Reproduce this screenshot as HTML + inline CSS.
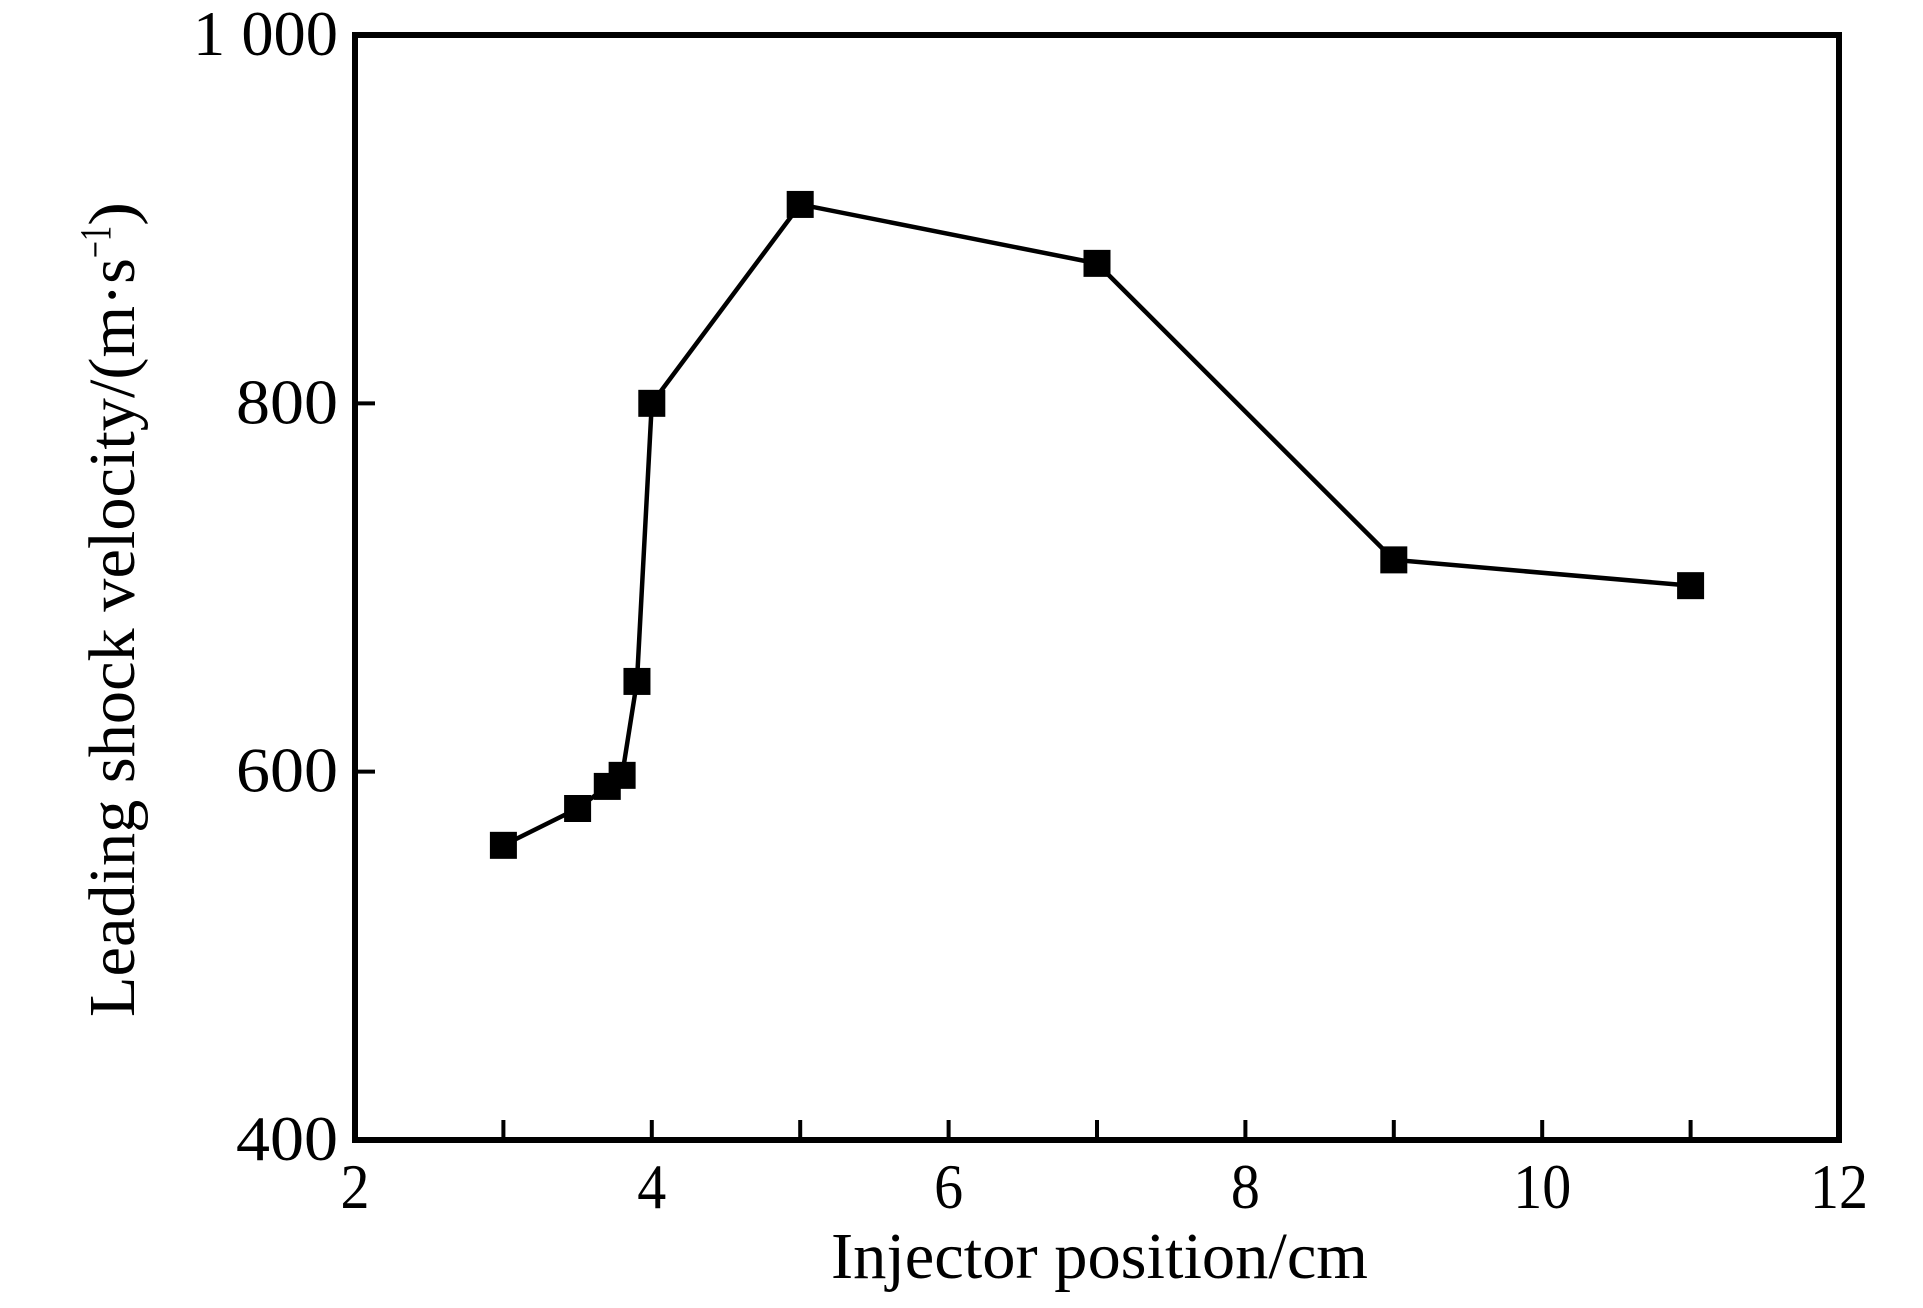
<!DOCTYPE html>
<html><head><meta charset="utf-8"><style>html,body{margin:0;padding:0;background:#fff}svg{display:block}</style></head>
<body>
<svg id="chart" width="1923" height="1308" viewBox="0 0 1923 1308" xmlns="http://www.w3.org/2000/svg" font-family="'Liberation Serif', serif">
<rect x="0" y="0" width="1923" height="1308" fill="#fff"/>
<g id="axes"></g>
<g id="series"></g>
<text x="831" y="1278" font-size="66" textLength="537" lengthAdjust="spacingAndGlyphs">Injector position/cm</text>
<g transform="translate(134,1017) rotate(-90)">
<text x="0" y="0" font-size="66" textLength="759" lengthAdjust="spacingAndGlyphs">Leading shock velocity/(m·s</text>
<text x="759" y="-24" font-size="44" textLength="32" lengthAdjust="spacingAndGlyphs">−1</text>
<text x="791" y="0" font-size="66" textLength="24" lengthAdjust="spacingAndGlyphs">)</text>
</g>
</svg>
<script>
const xValues=[3,3.5,3.7,3.8,3.9,4,5,7,9,11];
const yValues=[560,580,592,598,649,800,908,876,715,701];
const xTicks=[2,3,4,5,6,7,8,9,10,11,12];
const xTickLabels=["2","","4","","6","","8","","10","","12"];
const yTicks=[400,600,800,1000];
const yTickLabels=["400","600","800","1 000"];
const L=355,R=1839,T=35,B=1140,xmin=2,xmax=12,ymin=400,ymax=1000;
const NS="http://www.w3.org/2000/svg";
const sx=v=>L+(v-xmin)/(xmax-xmin)*(R-L);
const sy=v=>B-(v-ymin)/(ymax-ymin)*(B-T);
function mk(tag,attrs,parent){const e=document.createElementNS(NS,tag);for(const k in attrs)e.setAttribute(k,attrs[k]);parent.appendChild(e);return e;}
const ax=document.getElementById('axes'),se=document.getElementById('series');
const frame=mk('rect',{x:L,y:T,width:R-L,height:B-T,fill:'none',stroke:'#000','stroke-width':6},ax);


xTicks.forEach((t,i)=>{
  const x=sx(t);
  if(i>0&&i<xTicks.length-1){const tk=mk('line',{x1:x,y1:B,x2:x,y2:B-20,stroke:'#000','stroke-width':4},ax);
  
  }
  if(xTickLabels[i]){const w=xTickLabels[i].length*29;
  const tx=mk('text',{x:x,y:1208,'font-size':64,'text-anchor':'middle',textLength:w,lengthAdjust:'spacingAndGlyphs'},ax);tx.textContent=xTickLabels[i];
  
  }
});
yTicks.forEach((t,i)=>{
  const y=sy(t);
  if(i>0&&i<yTicks.length-1){const tk=mk('line',{x1:L,y1:y,x2:L+20,y2:y,stroke:'#000','stroke-width':4},ax);
  
  }
  const lab=yTickLabels[i];const w=lab.length===5?145:102;
  const tx=mk('text',{x:338,y:y+20,'font-size':64,'text-anchor':'end',textLength:w,lengthAdjust:'spacingAndGlyphs'},ax);tx.textContent=lab;
  
  
});
const pts=xValues.map((v,i)=>sx(v)+','+sy(yValues[i])).join(' ');
const line=mk('polyline',{points:pts,fill:'none',stroke:'#000','stroke-width':4.5,'stroke-linejoin':'miter'},se);


xValues.forEach((v,i)=>{
  const m=mk('rect',{x:sx(v)-13.5,y:sy(yValues[i])-13.5,width:27,height:27,fill:'#000'},se);
  
  
});
</script>
</body></html>
